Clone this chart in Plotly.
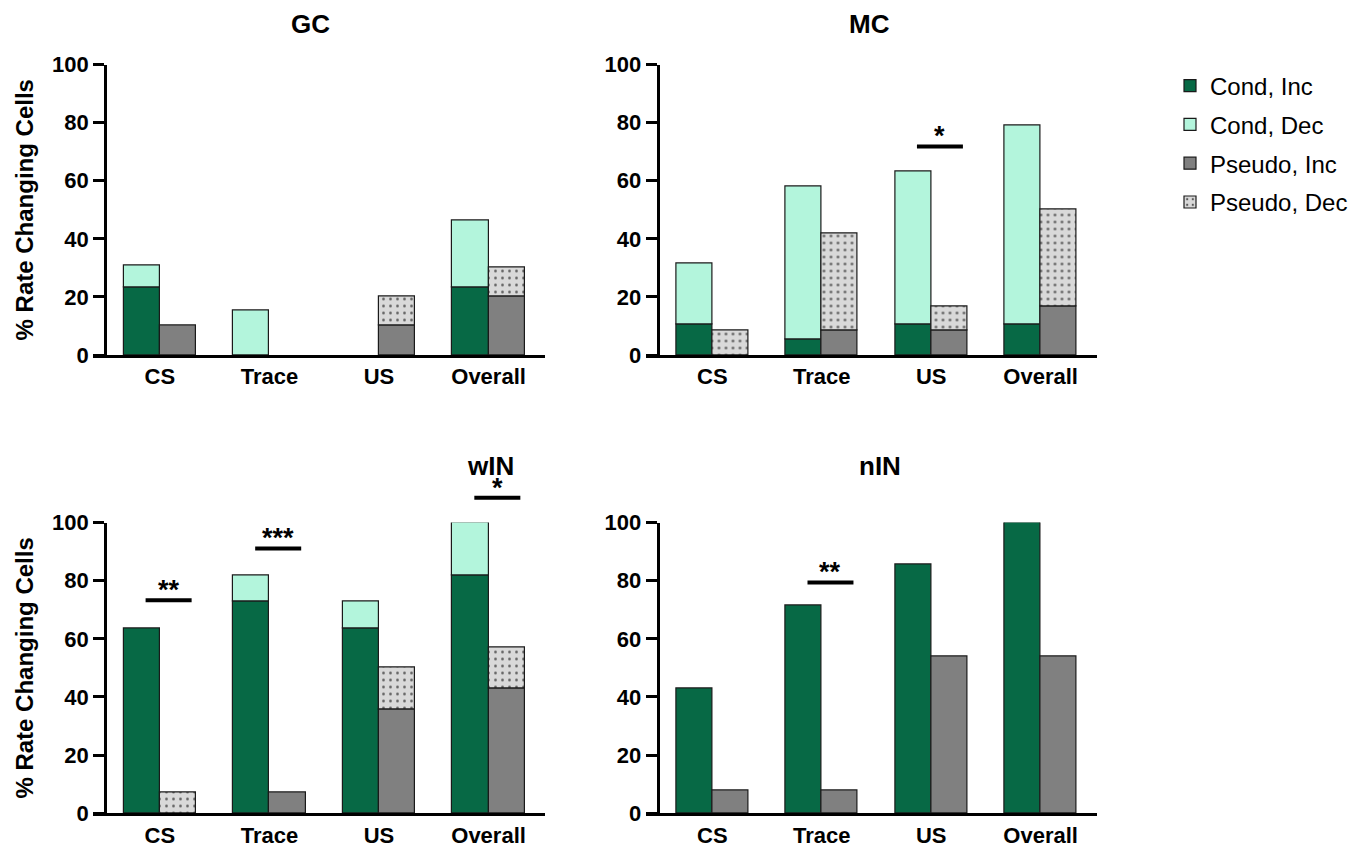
import plotly.graph_objects as go

# ---------------- data ----------------
categories = ["CS", "Trace", "US", "Overall"]
panels = ["GC", "MC", "wIN", "nIN"]
series_names = ["Cond, Inc", "Cond, Dec", "Pseudo, Inc", "Pseudo, Dec"]

gc_cond_inc = [23.1, 0.0, 0.0, 23.1]
gc_cond_dec = [7.7, 15.4, 0.0, 23.1]
gc_pseudo_inc = [10.0, 0.0, 10.0, 20.0]
gc_pseudo_dec = [0.0, 0.0, 10.0, 10.0]

mc_cond_inc = [10.5, 5.3, 10.5, 10.5]
mc_cond_dec = [21.1, 52.6, 52.7, 68.4]
mc_pseudo_inc = [0.0, 8.3, 8.3, 16.7]
mc_pseudo_dec = [8.3, 33.4, 8.4, 33.3]

win_cond_inc = [63.6, 72.7, 63.6, 81.8]
win_cond_dec = [0.0, 9.1, 9.1, 18.2]
win_pseudo_inc = [0.0, 7.1, 35.7, 42.9]
win_pseudo_dec = [7.1, 0.0, 14.3, 14.2]

nin_cond_inc = [42.9, 71.4, 85.7, 100.0]
nin_cond_dec = [0.0, 0.0, 0.0, 0.0]
nin_pseudo_inc = [7.7, 7.7, 53.8, 53.8]
nin_pseudo_dec = [0.0, 0.0, 0.0, 0.0]

sig_panels = ["MC", "wIN", "wIN", "wIN", "nIN"]
sig_categories = ["US", "CS", "Trace", "Overall", "Trace"]
sig_heights = [71.8, 73.3, 91.1, 108.5, 79.4]
sig_labels = ["*", "**", "***", "*", "**"]

y_tick_values = [0, 20, 40, 60, 80, 100]
y_title = "% Rate Changing Cells"

panel_data = {
    "GC": (gc_cond_inc, gc_cond_dec, gc_pseudo_inc, gc_pseudo_dec),
    "MC": (mc_cond_inc, mc_cond_dec, mc_pseudo_inc, mc_pseudo_dec),
    "wIN": (win_cond_inc, win_cond_dec, win_pseudo_inc, win_pseudo_dec),
    "nIN": (nin_cond_inc, nin_cond_dec, nin_pseudo_inc, nin_pseudo_dec),
}

# ---------------- style / layout ----------------
W, H = 1348, 849
FONT = "Liberation Sans, Arial, sans-serif"
XMIN, XMAX = -0.61, 3.515
YMAX = 100
BAR_W = 0.33
COL_GREEN = "#076945"
COL_MINT = "#b3f5dc"
COL_GRAY = "#808080"
COL_LIGHT = "#d9d9d9"
EDGE = dict(color="#1a1a1a", width=1.2)

left_x = (93, 545)
right_x = (645.5, 1097)
top_y = (64.5, 355)
bot_y = (522.5, 813.3)
panel_geom = {
    "GC": (1, left_x, top_y, (310, 24)),
    "MC": (2, right_x, top_y, (869, 24)),
    "wIN": (3, left_x, bot_y, (490, 466)),
    "nIN": (4, right_x, bot_y, (880, 466)),
}


def xfrac(v):
    return (v - XMIN) / (XMAX - XMIN)


def nz(vals):
    # zero-height segments are not drawn
    return [v if v > 0 else None for v in vals]


fig = go.Figure()
layout_axes = {}
for p in panels:
    n, xd, yd, tpos = panel_geom[p]
    sfx = "" if n == 1 else str(n)
    xa, ya = "x" + sfx, "y" + sfx
    cinc, cdec, pinc, pdec = panel_data[p]
    show = n == 1
    specs = [
        (series_names[0], cinc, None, -BAR_W, dict(color=COL_GREEN, line=EDGE)),
        (series_names[1], cdec, cinc, -BAR_W, dict(color=COL_MINT, line=EDGE)),
        (series_names[2], pinc, None, 0.0, dict(color=COL_GRAY, line=EDGE)),
        (series_names[3], pdec, pinc, 0.0,
         dict(color=COL_LIGHT, line=EDGE,
              pattern=dict(shape=".", fgcolor="#555555", bgcolor=COL_LIGHT,
                           size=7, solidity=0.12, fillmode="replace"))),
    ]
    for name, vals, base, off, marker in specs:
        fig.add_trace(go.Bar(
            x=categories, y=nz(vals), base=base, offset=off, width=BAR_W,
            marker=marker, name=name, legendgroup=name, showlegend=show,
            xaxis=xa, yaxis=ya, hoverinfo="skip",
        ))

    xdom = [xd[0] / W, xd[1] / W]
    ydom = [1 - yd[1] / H, 1 - yd[0] / H]
    ypos = (xd[0] + xfrac(-0.5) * (xd[1] - xd[0])) / W
    layout_axes["xaxis" + sfx] = dict(
        domain=xdom, anchor=ya, type="category", categoryarray=categories,
        range=[XMIN, XMAX], showline=True, linewidth=3, linecolor="black",
        ticks="", showgrid=False, zeroline=False, automargin=False,
        tickfont=dict(family=FONT, size=22, color="black", weight="bold"),
    )
    ycfg = dict(
        domain=ydom, anchor="free", position=ypos, range=[0, YMAX],
        tickvals=y_tick_values, ticks="outside", ticklen=11, tickwidth=3,
        tickcolor="black", showline=True, linewidth=3, linecolor="black",
        showgrid=False, zeroline=False, automargin=False,
        tickfont=dict(family=FONT, size=22, color="black", weight="bold"),
    )
    if p in ("GC", "wIN"):
        ycfg["title"] = dict(text=y_title, standoff=10,
                             font=dict(family=FONT, size=24, color="black",
                                       weight="bold"))
    layout_axes["yaxis" + sfx] = ycfg

    fig.add_annotation(
        text=p, x=tpos[0] / W, y=1 - tpos[1] / H, xref="paper", yref="paper",
        showarrow=False, xanchor="center", yanchor="middle",
        font=dict(family=FONT, size=26, color="black", weight="bold"),
    )

# significance bars and stars
for sp, sc, sh, sl in zip(sig_panels, sig_categories, sig_heights, sig_labels):
    n = panel_geom[sp][0]
    sfx = "" if n == 1 else str(n)
    ci = categories.index(sc)
    fig.add_shape(
        type="line", xref="x" + sfx + " domain", yref="y" + sfx + " domain",
        x0=xfrac(ci - 0.13), x1=xfrac(ci + 0.29), y0=sh / YMAX, y1=sh / YMAX,
        line=dict(color="black", width=4),
    )
    fig.add_annotation(
        text=sl, xref="x" + sfx + " domain", yref="y" + sfx + " domain",
        x=xfrac(ci + 0.08), y=sh / YMAX, xanchor="center", yanchor="bottom",
        yshift=-7, showarrow=False,
        font=dict(family=FONT, size=27, color="black", weight="bold"),
    )

fig.update_layout(
    width=W, height=H, margin=dict(l=0, r=0, t=0, b=0, autoexpand=False),
    paper_bgcolor="white", plot_bgcolor="white",
    barmode="overlay", bargap=0,
    font=dict(family=FONT, color="black"),
    legend=dict(
        x=1170 / W, y=1 - 63.5 / H, xanchor="left", yanchor="top",
        font=dict(family=FONT, size=24, color="black"),
        tracegroupgap=4.6, traceorder="grouped", bgcolor="rgba(0,0,0,0)",
    ),
    **layout_axes,
)

fig.write_html("out.html")
